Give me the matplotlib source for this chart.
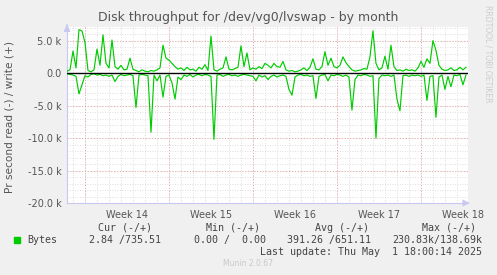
import numpy as np
import matplotlib.pyplot as plt

# 6-hour samples, day 0 = Monday 31 Mar 2025 (start of Week 14)
t0 = -1.5
step = 0.25

# write (+) in k bytes/s
write_k = [0.3, 0.5, 3.4, 0.8, 6.7, 6.5, 4.7, 0.4, 0.2, 0.5,
           3.7, 1.2, 5.9, 1.5, 0.8, 5.1, 1.0, 0.6, 1.2, 0.5,
           0.6, 2.3, 0.6, 0.4, 0.2, 0.5, 0.3, 0.2, 0.4, 0.3,
           0.5, 0.8, 4.3, 2.3, 2.0, 1.5, 1.0, 0.6, 0.8, 0.4,
           0.9, 0.5, 0.6, 0.3, 0.9, 0.6, 1.3, 0.4, 5.7, 0.5,
           0.3, 0.6, 0.8, 2.5, 0.6, 0.5, 0.7, 0.9, 4.2, 1.0,
           3.1, 0.5, 0.8, 0.6, 1.0, 0.7, 1.5, 1.2, 0.8, 1.5,
           1.0, 0.9, 1.8, 0.5, 0.3, 0.4, 0.2, 0.3, 0.5, 0.8,
           0.4, 0.9, 2.2, 0.6, 0.5, 1.0, 3.3, 1.2, 2.3, 1.0,
           0.8, 1.2, 2.5, 1.6, 1.0, 0.5, 0.3, 0.4, 0.5, 0.7,
           0.6, 2.5, 6.5, 1.5, 0.5, 0.8, 2.6, 0.6, 4.3, 1.0,
           0.4, 0.5, 0.3, 0.6, 0.4, 0.5, 0.3, 0.8, 1.8, 0.9,
           2.2, 1.5, 5.0, 3.5, 1.2, 0.6, 0.4, 0.5, 0.8, 0.4,
           0.5, 0.9, 0.5, 0.9]

# read (-) in k bytes/s, magnitude
read_k = [0.1, 0.2, 0.3, 0.5, 3.2, 1.8, 0.4, 0.6, 0.2, 0.1,
          0.3, 0.2, 0.4, 0.3, 0.5, 0.3, 1.3, 0.5, 0.2, 0.4,
          0.3, 0.2, 0.4, 5.3, 0.3, 0.2, 0.3, 0.4, 9.1, 0.3,
          1.2, 0.3, 3.7, 0.5, 0.3, 1.5, 4.0, 0.6, 1.0, 0.3,
          0.5, 0.2, 0.6, 0.3, 0.2, 0.4, 0.2, 0.3, 0.5, 10.2,
          0.3, 0.2, 0.5, 0.3, 0.2, 0.4, 0.3, 0.5, 0.3, 0.2,
          0.3, 0.4, 0.5, 1.2, 0.3, 0.6, 0.4, 1.0, 0.5, 0.3,
          0.6, 0.4, 0.3, 0.5, 2.5, 3.4, 0.6, 0.3, 0.2, 0.4,
          0.3, 0.5, 0.4, 3.9, 0.5, 0.3, 0.2, 1.2, 0.3, 0.4,
          0.2, 0.3, 0.5, 0.3, 0.6, 5.7, 1.0, 0.3, 0.4, 0.2,
          0.3, 0.5, 0.4, 10.0, 0.8, 0.3, 0.4, 0.3, 0.5, 0.3,
          4.0, 5.8, 0.4, 0.3, 0.5, 0.3, 0.4, 0.3, 0.5, 0.3,
          4.2, 0.5, 0.4, 6.8, 0.6, 0.3, 2.5, 0.5, 2.1, 0.3,
          0.4, 0.2, 1.8, 0.3]

week_labels = ['Week 14', 'Week 15', 'Week 16', 'Week 17', 'Week 18']
ytick_vals = [-20000, -15000, -10000, -5000, 0, 5000]
ytick_labels = ['-20.0 k', '-15.0 k', '-10.0 k', '-5.0 k', '0.0', '5.0 k']

t = t0 + step * np.arange(len(write_k))
w = np.array(write_k) * 1000
r = -np.array(read_k) * 1000

bg = '#f0f0f0'
fig = plt.figure(figsize=(4.97, 2.75), dpi=100, facecolor=bg)
ax = fig.add_axes([67 / 497, 72 / 275, 401 / 497, 176 / 275])
ax.set_facecolor('white')

ax.set_xlim(-1.5, 31.92)
ax.set_ylim(-20000, 7100)

# grid: minor gray every day / 1k, major red every week / 5k
for d in range(-1, 32):
    ax.axvline(d, color='#d4d4d4', lw=0.6, ls=(0, (1, 2)), zorder=0)
for v in range(-19000, 8000, 1000):
    ax.axhline(v, color='#d4d4d4', lw=0.6, ls=(0, (1, 2)), zorder=0)
for d in [0, 7, 14, 21, 28]:
    ax.axvline(d, color='#eaa0a0', lw=0.7, ls=(0, (1, 2)), zorder=0.5)
for v in ytick_vals[1:]:
    ax.axhline(v, color='#eaa0a0', lw=0.7, ls=(0, (1, 2)), zorder=0.5)

ax.plot(t, w, color='#00cc00', lw=0.85, zorder=3)
ax.plot(t, r, color='#00cc00', lw=0.85, zorder=3)
ax.axhline(0, color='black', lw=1.0, zorder=4)

for s in ['top', 'right']:
    ax.spines[s].set_visible(False)
for s in ['left', 'bottom']:
    ax.spines[s].set_color('#c8c8f0')
    ax.spines[s].set_linewidth(0.8)
ax.annotate('', xy=(32.3, -20000), xytext=(31.5, -20000),
            arrowprops=dict(arrowstyle='-|>', color='#c8c8f0', lw=0.8),
            annotation_clip=False)
ax.annotate('', xy=(-1.5, 7900), xytext=(-1.5, 7000),
            arrowprops=dict(arrowstyle='-|>', color='#c8c8f0', lw=0.8),
            annotation_clip=False)

ax.set_xticks([3.5, 10.5, 17.5, 24.5, 31.5], labels=week_labels)
ax.set_yticks(ytick_vals, labels=ytick_labels)
ax.tick_params(axis='both', length=0, labelsize=7, colors='#555555', pad=5)
ax.tick_params(axis='y', pad=4)

fig.text(248 / 497, 1 - 18 / 275, 'Disk throughput for /dev/vg0/lvswap - by month',
         ha='center', va='center', fontsize=9, color='#555555')
fig.text(10 / 497, 1 - 117 / 275, 'Pr second read (-) / write (+)', rotation=90,
         ha='center', va='center', fontsize=7.6, color='#555555')
fig.text(488 / 497, 1 - 5 / 275, 'RRDTOOL / TOBI OETIKER', rotation=270,
         ha='center', va='top', fontsize=5.5, color='#cccccc')

mono = dict(family='DejaVu Sans Mono', fontsize=7.2, color='#444444', va='center')
y1, y2, y3 = 1 - 228 / 275, 1 - 240 / 275, 1 - 252 / 275
for xc, txt in [(125, 'Cur (-/+)'), (233, 'Min (-/+)'), (342, 'Avg (-/+)'), (449, 'Max (-/+)')]:
    fig.text(xc / 497, y1, txt, ha='center', **mono)
fig.patches.append(plt.Rectangle((14 / 497, 1 - 243 / 275), 6 / 497, 6 / 275,
                                 transform=fig.transFigure, color='#00cc00'))
fig.text(27 / 497, y2, 'Bytes', ha='left', **mono)
for xr, txt in [(161, '2.84 /735.51'), (266, '0.00 /  0.00'),
                (371, '391.26 /651.11'), (482, '230.83k/138.69k')]:
    fig.text(xr / 497, y2, txt, ha='right', **mono)
fig.text(482 / 497, y3, 'Last update: Thu May  1 18:00:14 2025', ha='right', **mono)
fig.text(248 / 497, 1 - 264 / 275, 'Munin 2.0.67', ha='center', va='center',
         fontsize=5.5, color='#c8c8c8')

fig.savefig('out.png', dpi=100, facecolor=bg)
